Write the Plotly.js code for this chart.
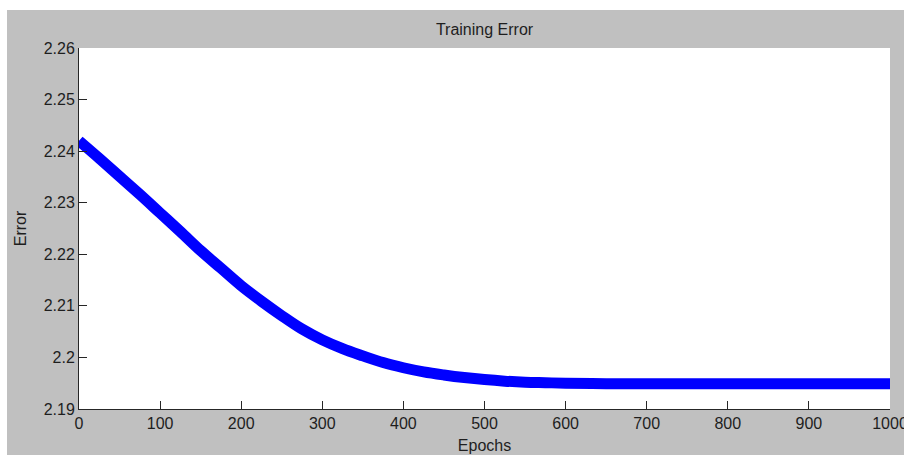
<!DOCTYPE html>
<html>
<head>
<meta charset="utf-8">
<script src="https://cdn.plot.ly/plotly-3.0.1.min.js"></script>
<style>
  html, body { margin: 0; padding: 0; background: #ffffff; width: 904px; height: 456px; overflow: hidden; }
  #chart { position: absolute; left: 7px; top: 10px; width: 927px; height: 445px; }
</style>
</head>
<body>
<div id="chart"></div>
<script>
// Data
const epochs = [0, 25, 50, 75, 100, 125, 150, 175, 200, 225, 250, 275, 300, 325, 350, 375, 400, 425, 450, 475, 500, 525, 550, 575, 600, 650, 700, 800, 900, 1000];
const trainingError = [2.2420, 2.2386, 2.2351, 2.2316, 2.2280, 2.2244, 2.2207, 2.2173, 2.2139, 2.2109, 2.2081, 2.2055, 2.2034, 2.2017, 2.2003, 2.1990, 2.1980, 2.1972, 2.1966, 2.1961, 2.1957, 2.1954, 2.1952, 2.1951, 2.1950, 2.1949, 2.1949, 2.1949, 2.1949, 2.1949];

const xTickVals = [0, 100, 200, 300, 400, 500, 600, 700, 800, 900, 1000];
const xTickText = ["0", "100", "200", "300", "400", "500", "600", "700", "800", "900", "1000"];
const yTickVals = [2.19, 2.20, 2.21, 2.22, 2.23, 2.24, 2.25, 2.26];
const yTickText = ["2.19", "2.2", "2.21", "2.22", "2.23", "2.24", "2.25", "2.26"];

const FONT = "Liberation Sans, Arial, Helvetica, sans-serif";
const AXIS_COLOR = "#262626";
const TEXT_COLOR = "#1e1e1e";

const trace = {
  x: epochs,
  y: trainingError,
  type: "scatter",
  mode: "lines",
  line: { color: "#0000ff", width: 11, shape: "spline", smoothing: 1 },
  cliponaxis: false,
  hoverinfo: "skip"
};

const axisCommon = {
  showline: true,
  linecolor: AXIS_COLOR,
  linewidth: 1,
  ticks: "inside",
  ticklen: 8,
  tickwidth: 1,
  tickcolor: AXIS_COLOR,
  showgrid: false,
  zeroline: false,
  mirror: false,
  tickfont: { family: FONT, size: 16, color: TEXT_COLOR }
};

const layout = {
  width: 927,
  height: 445,
  paper_bgcolor: "#c0c0c0",
  plot_bgcolor: "#ffffff",
  margin: { l: 72, r: 44, t: 38, b: 46 },
  showlegend: false,
  title: {
    text: "Training Error",
    font: { family: FONT, size: 16, color: TEXT_COLOR },
    x: 0.5, xref: "paper",
    y: 1, yref: "paper", yanchor: "bottom",
    pad: { b: 13 }
  },
  xaxis: Object.assign({}, axisCommon, {
    range: [0, 1000],
    tickmode: "array",
    tickvals: xTickVals,
    ticktext: xTickText,
    title: { text: "Epochs", font: { family: FONT, size: 16, color: TEXT_COLOR }, standoff: 8 }
  }),
  yaxis: Object.assign({}, axisCommon, {
    range: [2.19, 2.26],
    tickmode: "array",
    tickvals: yTickVals,
    ticktext: yTickText,
    title: { text: "Error", font: { family: FONT, size: 16, color: TEXT_COLOR }, standoff: 13 }
  })
};

Plotly.newPlot("chart", [trace], layout, { staticPlot: true, displayModeBar: false });
</script>
</body>
</html>
